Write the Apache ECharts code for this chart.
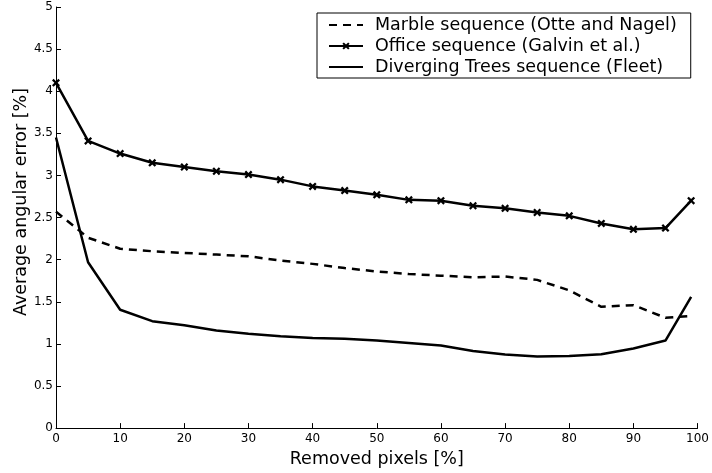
<!DOCTYPE html>
<html>
<head>
<meta charset="utf-8">
<script src="https://cdn.jsdelivr.net/npm/echarts@6/dist/echarts.min.js"></script>
<style>
html,body{margin:0;padding:0;background:#fff;}
#chart{width:712px;height:473px;}
</style>
</head>
<body>
<div id="chart"></div>
<script>
const removedPixels = [0,5,10,15,20,25,30,35,40,45,50,55,60,65,70,75,80,85,90,95,99];
const marble = [2.57,2.26,2.13,2.10,2.08,2.06,2.04,1.99,1.95,1.90,1.86,1.83,1.81,1.79,1.80,1.76,1.635,1.44,1.46,1.31,1.33];
const office = [4.10,3.41,3.26,3.15,3.10,3.05,3.01,2.95,2.87,2.82,2.77,2.71,2.70,2.64,2.61,2.56,2.52,2.43,2.36,2.375,2.70];
const trees = [3.45,1.97,1.405,1.27,1.22,1.16,1.12,1.09,1.07,1.06,1.04,1.01,0.98,0.915,0.875,0.85,0.856,0.876,0.946,1.04,1.557];
const seriesNames = ['Marble sequence (Otte and Nagel)','Office sequence (Galvin et al.)','Diverging Trees sequence (Fleet)'];
const xTitle = 'Removed pixels [%]';
const yTitle = 'Average angular error [%]';

const FONT = 'DejaVu Sans';
const xMark = 'path://M0,2L2,0L5,3L8,0L10,2L7,5L10,8L8,10L5,7L2,10L0,8L3,5Z';
const pair = arr => removedPixels.map((x, i) => [x, arr[i]]);

const chart = echarts.init(document.getElementById('chart'), null, {renderer: 'canvas'});
chart.setOption({
  animation: false,
  backgroundColor: '#fff',
  grid: {left: 56, right: 14, top: 7, bottom: 38, containLabel: false},
  xAxis: {
    type: 'value', min: 0, max: 100, interval: 10,
    name: xTitle, nameLocation: 'middle', nameGap: 11,
    nameTextStyle: {fontFamily: FONT, fontSize: 17.5, color: '#000', verticalAlign: 'top'},
    axisLine: {show: true, lineStyle: {color: '#000', width: 1}},
    axisTick: {show: true, inside: true, length: 5, lineStyle: {color: '#000'}},
    axisLabel: {fontFamily: FONT, fontSize: 12, color: '#000', margin: 5},
    splitLine: {show: false}
  },
  yAxis: {
    type: 'value', min: 0, max: 5, interval: 0.5,
    axisLine: {show: true, lineStyle: {color: '#000', width: 1}},
    axisTick: {show: true, inside: true, length: 5, lineStyle: {color: '#000'}},
    axisLabel: {fontFamily: FONT, fontSize: 12, color: '#000', margin: 3},
    splitLine: {show: false}
  },
  graphic: [{
    type: 'text', x: 21, y: 202,
    rotation: Math.PI / 2,
    style: {text: yTitle, fontFamily: FONT, fontSize: 17.5, fill: '#000', align: 'center', verticalAlign: 'middle'},
    silent: true
  }],
  legend: {
    orient: 'vertical', left: 317, top: 13,
    padding: [3, 14, 2, 11],
    borderColor: '#000', borderWidth: 1, borderRadius: 0,
    backgroundColor: '#fff',
    itemWidth: 34, itemHeight: 9, itemGap: 3,
    textStyle: {fontFamily: FONT, fontSize: 17.5, color: '#000', padding: [0, 0, 0, 7]},
    data: [
      {name: seriesNames[0], itemStyle: {opacity: 0}},
      {name: seriesNames[1]},
      {name: seriesNames[2], itemStyle: {opacity: 0}}
    ]
  },
  series: [
    {name: seriesNames[0], type: 'line', data: pair(marble), symbol: 'none', showSymbol: false,
     lineStyle: {color: '#000', width: 2.5, type: [8, 6]}, itemStyle: {color: '#000'}},
    {name: seriesNames[1], type: 'line', data: pair(office), symbol: xMark, symbolSize: 8, showSymbol: true,
     lineStyle: {color: '#000', width: 2.5}, itemStyle: {color: '#000'}},
    {name: seriesNames[2], type: 'line', data: pair(trees), symbol: 'none', showSymbol: false,
     lineStyle: {color: '#000', width: 2.5}, itemStyle: {color: '#000'}}
  ]
});
</script>
</body>
</html>
